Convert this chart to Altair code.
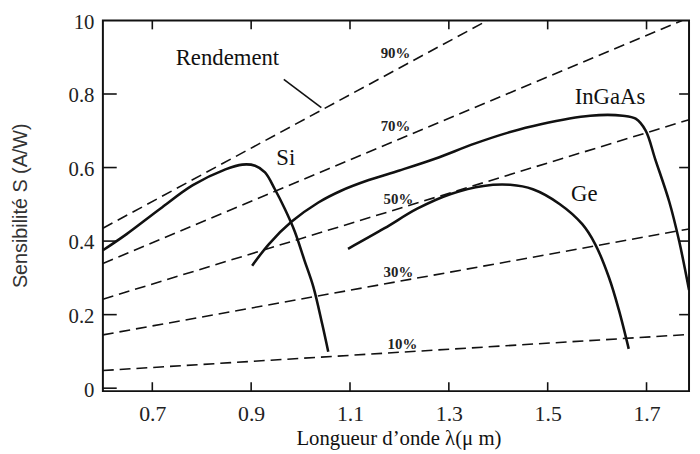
import altair as alt
import pandas as pd

# ---------------- data ----------------
x_ticks = [0.7, 0.9, 1.1, 1.3, 1.5, 1.7]
y_ticks = [0.0, 0.2, 0.4, 0.6, 0.8, 1.0]
y_tick_labels = ["0", "0.2", "0.4", "0.6", "0.8", "10"]
side_ticks_y = [0.2, 0.4, 0.6, 0.8]

si_x = [0.600, 0.648, 0.716, 0.782, 0.848, 0.882, 0.908, 0.928, 0.948, 0.968, 0.988, 1.008, 1.026, 1.044, 1.056]
si_y = [0.375, 0.419, 0.488, 0.552, 0.595, 0.608, 0.605, 0.587, 0.541, 0.488, 0.427, 0.347, 0.275, 0.173, 0.099]

ingaas_x = [0.902, 0.936, 0.982, 1.036, 1.082, 1.138, 1.200, 1.272, 1.352, 1.420, 1.486, 1.586, 1.652, 1.678, 1.698, 1.718, 1.746, 1.766, 1.786]
ingaas_y = [0.333, 0.392, 0.453, 0.505, 0.537, 0.566, 0.592, 0.624, 0.665, 0.695, 0.718, 0.741, 0.741, 0.733, 0.701, 0.621, 0.507, 0.400, 0.267]

ge_x = [1.096, 1.170, 1.236, 1.304, 1.370, 1.424, 1.470, 1.524, 1.570, 1.596, 1.624, 1.644, 1.664]
ge_y = [0.379, 0.435, 0.488, 0.528, 0.550, 0.553, 0.541, 0.501, 0.446, 0.392, 0.301, 0.213, 0.107]

eff_names = ["90%", "70%", "50%", "30%", "10%"]
eff_x0 = [0.600, 0.600, 0.600, 0.600, 0.600]
eff_y0 = [0.435, 0.339, 0.242, 0.145, 0.048]
eff_x1 = [1.378, 1.772, 1.786, 1.786, 1.786]
eff_y1 = [1.000, 1.000, 0.730, 0.433, 0.146]
eff_label_x = [1.192, 1.192, 1.198, 1.198, 1.206]
eff_label_y = [0.912, 0.712, 0.515, 0.315, 0.120]

names = ["Rendement", "Si", "InGaAs", "Ge"]
name_x = [0.852, 0.970, 1.626, 1.574]
name_y = [0.899, 0.627, 0.792, 0.528]

leader_x = [0.966, 1.042]
leader_y = [0.840, 0.763]

# ---------------- tables ----------------
rows = []
for nm, xs_, ys_ in [("Si", si_x, si_y), ("InGaAs", ingaas_x, ingaas_y), ("Ge", ge_x, ge_y)]:
    for i, (a, b) in enumerate(zip(xs_, ys_)):
        rows.append({"curve": nm, "x": a, "y": b, "o": i})
curves_df = pd.DataFrame(rows)

eff_rows = []
for nm, a0, b0, a1, b1 in zip(eff_names, eff_x0, eff_y0, eff_x1, eff_y1):
    eff_rows.append({"eta": nm, "x": a0, "y": b0, "o": 0})
    eff_rows.append({"eta": nm, "x": a1, "y": b1, "o": 1})
eff_df = pd.DataFrame(eff_rows)
eff_lab_df = pd.DataFrame({"t": eff_names, "x": eff_label_x, "y": eff_label_y})
names_df = pd.DataFrame({"t": names, "x": name_x, "y": name_y})
leader_df = pd.DataFrame({"x": leader_x, "y": leader_y, "o": [0, 1]})
xt_df = pd.DataFrame({"x": x_ticks})

W, H = 593, 375
xs = alt.Scale(domain=[0.6, 1.786], nice=False, zero=False)
ys = alt.Scale(domain=[-0.008, 1.0], nice=False, zero=False)

conds = " : ".join(
    f"abs(datum.value - {v}) < 1e-6 ? '{l}'" for v, l in zip(y_ticks, y_tick_labels)
) + " : ''"

SERIF = "Liberation Serif"
x_axis = alt.Axis(values=x_ticks, format=".1f", ticks=False, domain=False, grid=False,
                  labelFont=SERIF, labelFontSize=22, labelColor="#222", labelPadding=13,
                  title="Longueur d’onde λ(μ m)", titleFont=SERIF, titleFontSize=21,
                  titleFontWeight="normal", titleColor="#111", titleX=299, titleY=54,
                  titleBaseline="alphabetic")
y_axis = alt.Axis(values=y_ticks, labelExpr=conds, ticks=False, domain=False, grid=False,
                  labelFont=SERIF, labelFontSize=21, labelColor="#222", labelPadding=9,
                  labelOffset=2,
                  title="Sensibilité S (A/W)", titleFont="Liberation Sans", titleFontSize=20,
                  titleFontWeight="normal", titleColor="#333", titleX=-83, titleY=187,
                  titleBaseline="middle")


def X():
    return alt.X("x:Q", scale=xs, axis=x_axis)


def Y():
    return alt.Y("y:Q", scale=ys, axis=y_axis)


curves = alt.Chart(curves_df).mark_line(color="#111", strokeWidth=2.6, interpolate="catmull-rom", clip=True).encode(
    x=X(), y=Y(), detail="curve:N", order="o:Q",
)

eff = alt.Chart(eff_df).mark_line(color="#111", strokeWidth=1.6, strokeDash=[11, 6], clip=True).encode(
    x=X(), y=Y(), detail="eta:N", order="o:Q",
)

leader = alt.Chart(leader_df).mark_line(color="#111", strokeWidth=1.6).encode(
    x=X(), y=Y(), order="o:Q",
)

eff_text = alt.Chart(eff_lab_df).mark_text(font=SERIF, fontSize=15, fontWeight="bold", color="#222").encode(
    x=X(), y=Y(), text="t:N",
)

name_text = alt.Chart(names_df).mark_text(font=SERIF, fontSize=23, color="#111").encode(
    x=X(), y=Y(), text="t:N",
)

tick_style = dict(color="#111", strokeWidth=1.6)
bottom_ticks = alt.Chart(xt_df).mark_rule(**tick_style).encode(
    x=X(), y=alt.value(H), y2=alt.value(H - 9))
top_ticks = alt.Chart(xt_df).mark_rule(**tick_style).encode(
    x=X(), y=alt.value(0), y2=alt.value(9))
left_ticks = alt.Chart(pd.DataFrame({"y": y_ticks[:-1]})).mark_rule(**tick_style).encode(
    y=Y(), x=alt.value(0), x2=alt.value(14))
right_ticks = alt.Chart(pd.DataFrame({"y": side_ticks_y})).mark_rule(**tick_style).encode(
    y=Y(), x=alt.value(W), x2=alt.value(W - 10))

chart = alt.layer(
    curves, eff, leader, eff_text, name_text, bottom_ticks, top_ticks, left_ticks, right_ticks
).properties(
    width=W, height=H,
    padding={"left": 96, "top": 10, "right": 3, "bottom": 60},
    autosize=alt.AutoSizeParams(type="none"),
    background="white",
).configure_view(stroke="#111", strokeWidth=2)

chart.save("out.html", embed_options={"renderer": "svg", "actions": False})
